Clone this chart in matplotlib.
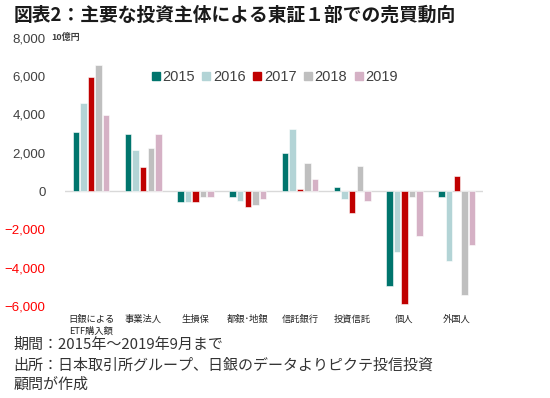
import numpy as np
import matplotlib.pyplot as plt
from matplotlib.lines import Line2D

plt.rcParams['font.family'] = ['Noto Sans CJK JP', 'DejaVu Sans']

categories = ['日銀による\nETF購入額', '事業法人', '生損保', '都銀･地銀',
              '信託銀行', '投資信託', '個人', '外国人']
years = ['2015', '2016', '2017', '2018', '2019']
v2015 = [3090, 3000, -590, -300, 2010, 220, -4950, -330]
v2016 = [4620, 2170, -590, -500, 3250, -400, -3160, -3630]
v2017 = [5940, 1270, -560, -830, 120, -1130, -5890, 800]
v2018 = [6560, 2240, -330, -750, 1460, 1300, -300, -5420]
v2019 = [3990, 3000, -330, -420, 610, -500, -2330, -2800]
series = [v2015, v2016, v2017, v2018, v2019]
colors = ['#00756D', '#B3D4D6', '#C00000', '#BFBFBF', '#D5B1C5']
yticks = [-6000, -4000, -2000, 0, 2000, 4000, 6000, 8000]

fig = plt.figure(figsize=(5.5, 3.98), dpi=100)
ax = fig.add_axes([0.118, 0.231, 0.760, 0.674])

x = np.arange(len(categories))
w = 0.145
for i, vals in enumerate(series):
    ax.bar(x + (i - 2) * w, vals, width=w * 0.85, color=colors[i],
           edgecolor='white', linewidth=0.4, zorder=3)

ax.axhline(0, color='#D9D9D9', linewidth=1, zorder=2)
ax.set_xlim(-0.5, len(categories) - 0.5)
ax.set_ylim(-6000, 8000)
ax.set_yticks(yticks)
ax.set_yticklabels([f'{v:,}'.replace('-', '\u2212') for v in yticks],
                   family=['Liberation Sans', 'DejaVu Sans'], fontsize=9.5)
for lab, v in zip(ax.get_yticklabels(), yticks):
    lab.set_color('#FF0000' if v < 0 else '#404040')
ax.set_xticks([])
for xi, name in zip(x, categories):
    ax.text(xi, -6450, name, ha='center', va='top', fontsize=6.7,
            color='#262626', linespacing=1.45)
ax.tick_params(axis='y', length=0, pad=14)
for s in ax.spines.values():
    s.set_visible(False)

handles = [Line2D([], [], marker='s', linestyle='none', markersize=6,
                  color=c) for c in colors]
leg = fig.legend(handles, years, loc='center', bbox_to_anchor=(0.5, 0.806),
                 ncol=5, frameon=False, handlelength=0.5, handletextpad=0.2,
                 columnspacing=0.55,
                 prop={'family': ['Liberation Sans'], 'size': 10.5})
for t in leg.get_texts():
    t.set_color('#404040')

fig.text(0.025, 0.962, '図表2：主要な投資主体による東証１部での売買動向',
         fontsize=13.5, fontweight='bold', va='center', color='#1A1A1A')
fig.text(0.094, 0.905, '10億円', fontsize=6.5, fontweight='bold',
         va='center', color='#404040')

notes = ['期間：2015年～2019年9月まで',
         '出所：日本取引所グループ、日銀のデータよりピクテ投信投資',
         '顧問が作成']
for j, line in enumerate(notes):
    fig.text(0.024, 1 - (345 + j * 20) / 398, line, fontsize=10.8,
             va='center', color='#333333')

fig.savefig('out.png', dpi=100)
